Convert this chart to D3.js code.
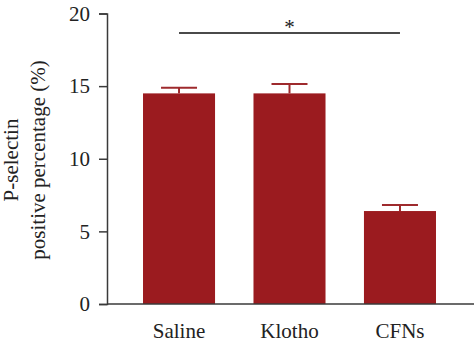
<!DOCTYPE html>
<html>
<head>
<meta charset="utf-8">
<script src="https://cdn.jsdelivr.net/npm/d3@7"></script>
<style>
  html, body { margin: 0; padding: 0; background: #fff; }
  svg text { font-family: "Liberation Serif", "DejaVu Serif", serif; fill: #222; }
</style>
</head>
<body>
<svg id="chart" width="474" height="346"></svg>
<script>
// Group names, means and SEM of P-selectin positive percentage
const groups = ["Saline", "Klotho", "CFNs"];
const means = [14.5, 14.5, 6.4];
const sems = [0.38, 0.64, 0.42];
const yTicks = [0, 5, 10, 15, 20];
const sigPair = ["Saline", "CFNs"];
const sigLabel = "*";

const svg = d3.select("#chart");
const barColor = "#9b1b1f";
const axisColor = "#3a3a3a";
const fontSize = 21;
const serif = "'Liberation Serif', 'DejaVu Serif', serif";

const x = d3.scaleBand()
  .domain(groups)
  .range([107, 472])
  .paddingInner(0.348)
  .paddingOuter(0.326);

const y = d3.scaleLinear().domain([0, 20]).range([304, 13.5]);

// Bars
svg.append("g").selectAll("rect")
  .data(groups)
  .join("rect")
  .attr("x", d => x(d))
  .attr("y", (d, i) => y(means[i]))
  .attr("width", x.bandwidth())
  .attr("height", (d, i) => y(0) - y(means[i]))
  .attr("fill", barColor);

// Error bars (upper only)
const capW = 36;
const eb = svg.append("g").attr("stroke", "#9e2a2d").attr("stroke-width", 2);
groups.forEach((g, i) => {
  const cx = x(g) + x.bandwidth() / 2;
  eb.append("line")
    .attr("x1", cx).attr("x2", cx)
    .attr("y1", y(means[i])).attr("y2", y(means[i] + sems[i]));
  eb.append("line")
    .attr("x1", cx - capW / 2).attr("x2", cx + capW / 2)
    .attr("y1", y(means[i] + sems[i])).attr("y2", y(means[i] + sems[i]));
});

// Y axis
const yAxis = svg.append("g")
  .attr("transform", "translate(107,0)")
  .call(d3.axisLeft(y).tickValues(yTicks).tickSize(8).tickPadding(9).tickFormat(d3.format("d")));
yAxis.attr("font-family", null).attr("font-size", null);
yAxis.select(".domain").attr("stroke", axisColor).attr("stroke-width", 1.5);
yAxis.selectAll(".tick line").attr("stroke", axisColor).attr("stroke-width", 1.5);
yAxis.selectAll(".tick text")
  .style("font-family", serif)
  .style("font-size", fontSize + "px")
  .attr("fill", "#222");

// X axis baseline
svg.append("line")
  .attr("x1", 107).attr("x2", 474)
  .attr("y1", y(0)).attr("y2", y(0))
  .attr("stroke", axisColor).attr("stroke-width", 1.5);

// X category labels
svg.append("g").selectAll("text")
  .data(groups)
  .join("text")
  .attr("x", d => x(d) + x.bandwidth() / 2)
  .attr("y", 338)
  .attr("text-anchor", "middle")
  .style("font-family", serif)
  .style("font-size", fontSize + "px")
  .text(d => d);

// Y axis title (two lines)
const yTitle = svg.append("text")
  .attr("transform", "translate(0,160) rotate(-90)")
  .attr("text-anchor", "middle")
  .style("font-family", serif)
  .style("font-size", fontSize + "px");
yTitle.append("tspan").attr("x", 0).attr("y", 18).text("P-selectin");
yTitle.append("tspan").attr("x", 0).attr("y", 45).text("positive percentage (%)");

// Significance bracket
const sx1 = x(sigPair[0]) + x.bandwidth() / 2;
const sx2 = x(sigPair[1]) + x.bandwidth() / 2;
svg.append("line")
  .attr("x1", sx1).attr("x2", sx2)
  .attr("y1", 33).attr("y2", 33)
  .attr("stroke", "#4a4a4a").attr("stroke-width", 2);
svg.append("text")
  .attr("x", (sx1 + sx2) / 2)
  .attr("y", 34)
  .attr("text-anchor", "middle")
  .style("font-family", serif)
  .style("font-size", fontSize + "px")
  .text(sigLabel);
</script>
</body>
</html>
